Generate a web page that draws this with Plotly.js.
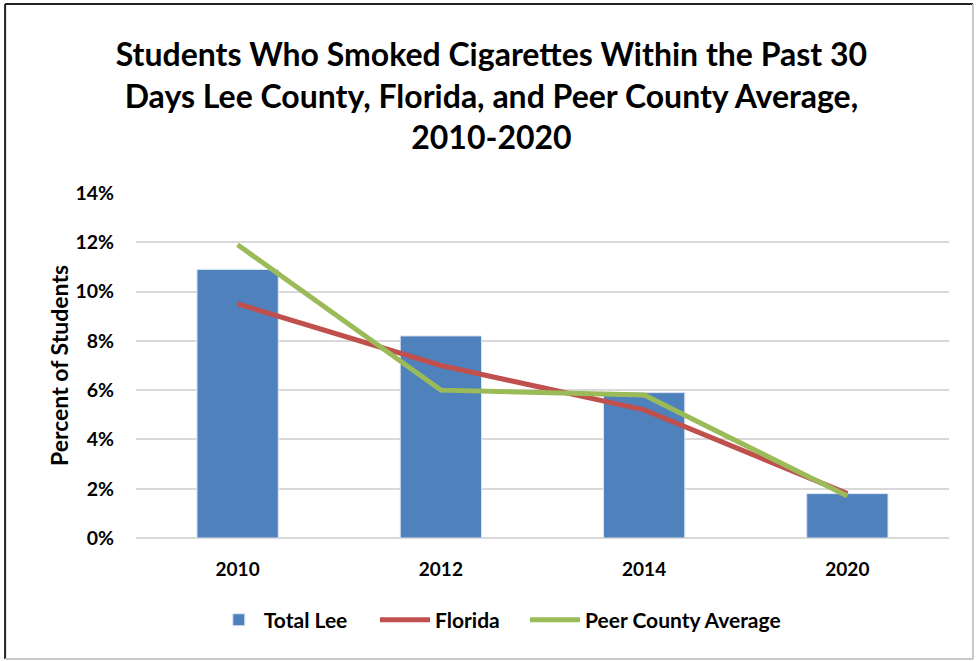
<!DOCTYPE html>
<html>
<head>
<meta charset="utf-8">
<script src="https://cdn.plot.ly/plotly-3.0.1.min.js"></script>
<style>html,body{margin:0;padding:0;background:#fff;}#chart{width:977px;height:661px;}</style>
</head>
<body>
<div id="chart"></div>
<script>
const years = ['2010', '2012', '2014', '2020'];
const totalLee = [10.9, 8.2, 5.9, 1.8];
const florida = [9.5, 7.0, 5.2, 1.8];
const peerAvg = [11.9, 6.0, 5.8, 1.7];
const yTicks = [0, 2, 4, 6, 8, 10, 12, 14];

const FONT = 'Lato, "Open Sans", Arial, sans-serif';
const LEGFONT = {family: FONT, size: 21, weight: 'bold', color: '#000'};

const traces = [
  {type: 'bar', name: 'Total Lee', x: years, y: totalLee, legend: 'legend',
   marker: {color: '#4F81BD', line: {color: '#DCE6F2', width: 1}}, width: 0.4},
  {type: 'scatter', mode: 'lines', name: 'Florida', x: years, y: florida, legend: 'legend2',
   line: {color: '#C0504D', width: 5}},
  {type: 'scatter', mode: 'lines', name: 'Peer County Average', x: years, y: peerAvg, legend: 'legend3',
   line: {color: '#9BBB59', width: 5}}
];

const layout = {
  width: 977, height: 661,
  margin: {l: 136, r: 28, t: 193, b: 123},
  paper_bgcolor: '#fff', plot_bgcolor: '#fff',
  font: {family: FONT, color: '#000'},
  title: {
    text: 'Students Who Smoked Cigarettes Within the Past 30<br>Days Lee County, Florida, and Peer County Average,<br>2010-2020',
    font: {family: FONT, size: 32, weight: 'bold', color: '#000'},
    x: 0.503, xref: 'container', xanchor: 'center',
    y: 0.9, yref: 'container', yanchor: 'middle'
  },
  xaxis: {
    type: 'category', showgrid: false, zeroline: false, showline: false,
    ticks: '', tickfont: {family: FONT, size: 19, weight: 'bold', color: '#000'},
    ticklabelstandoff: 18
  },
  yaxis: {
    range: [0, 14], tickvals: yTicks, ticktext: yTicks.map(v => v + '%'),
    showgrid: true, gridcolor: '#D9D9D9', gridwidth: 2,
    zeroline: true, zerolinecolor: '#D9D9D9', zerolinewidth: 2,
    showline: false, ticks: '',
    tickfont: {family: FONT, size: 19.5, weight: 'bold', color: '#000'},
    ticklabelstandoff: 21,
    title: {text: 'Percent of Students', standoff: 0,
            font: {family: FONT, size: 23, weight: 'bold', color: '#000'}}
  },
  legend: {orientation: 'h', x: 0.0957, xanchor: 'left', y: -0.238, yanchor: 'middle',
           font: LEGFONT, itemwidth: 40},
  legend2: {orientation: 'h', x: 0.2940, xanchor: 'left', y: -0.238, yanchor: 'middle',
            font: LEGFONT, itemwidth: 50},
  legend3: {orientation: 'h', x: 0.4785, xanchor: 'left', y: -0.238, yanchor: 'middle',
            font: LEGFONT, itemwidth: 50},
  showlegend: true,
  shapes: [
    {type: 'line', xref: 'paper', yref: 'paper', x0: -0.161, x1: 1.0295, y0: 1.548, y1: 1.548, line: {color: '#222', width: 2}},
    {type: 'line', xref: 'paper', yref: 'paper', x0: -0.161, x1: -0.161, y0: 1.548, y1: -0.351, line: {color: '#222', width: 2}},
    {type: 'line', xref: 'paper', yref: 'paper', x0: 1.0295, x1: 1.0295, y0: 1.548, y1: -0.351, line: {color: '#C8C8C8', width: 2}},
    {type: 'line', xref: 'paper', yref: 'paper', x0: -0.161, x1: 1.0295, y0: -0.351, y1: -0.351, line: {color: '#C8C8C8', width: 2}}
  ]
};

Plotly.newPlot('chart', traces, layout, {displayModeBar: false, staticPlot: true});
</script>
</body>
</html>
